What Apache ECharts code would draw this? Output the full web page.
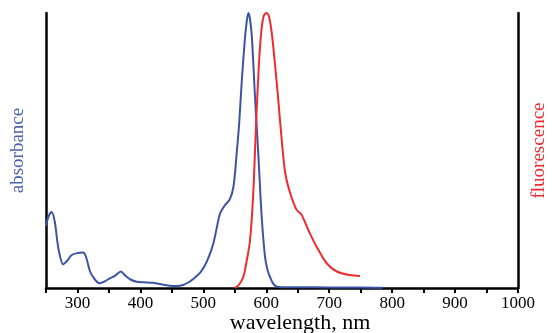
<!DOCTYPE html>
<html>
<head>
<meta charset="utf-8">
<script src="https://cdn.jsdelivr.net/npm/echarts@6/dist/echarts.min.js"></script>
<style>
  html, body { margin: 0; padding: 0; background: #fff; }
  #chart { width: 552px; height: 333px; }
</style>
</head>
<body>
<div id="chart"></div>
<script>
// absorbance spectrum (normalised)
const absWl  = [250, 254, 259, 264, 270, 277.5, 284, 291, 300, 309, 314, 320, 328, 336, 344, 352, 360, 369, 376, 385, 394, 405, 420, 435, 447, 458, 468, 476, 484, 490, 495, 502, 509, 516, 521, 526.5, 534, 542, 548, 553, 557, 561, 566, 569, 571.6, 574, 577, 582, 587.5, 592.7, 598, 602, 606, 611, 616, 625, 650, 700, 750, 785];
const absVal = [0.226, 0.26, 0.276, 0.24, 0.14, 0.086, 0.1, 0.12, 0.127, 0.129, 0.11, 0.06, 0.03, 0.017, 0.025, 0.036, 0.045, 0.06, 0.045, 0.03, 0.023, 0.021, 0.019, 0.013, 0.008, 0.007, 0.011, 0.02, 0.033, 0.045, 0.056, 0.08, 0.115, 0.163, 0.215, 0.27, 0.3, 0.322, 0.37, 0.49, 0.6, 0.75, 0.905, 0.97, 1.0, 0.98, 0.917, 0.7, 0.48, 0.26, 0.114, 0.065, 0.04, 0.016, 0.006, 0.003, 0.003, 0.002, 0.002, 0.001];

// fluorescence spectrum (normalised)
const fluWl  = [550, 556, 563.5, 569, 574, 579, 583.7, 588, 592, 596, 600.5, 604, 608.6, 614, 619, 624.5, 630, 637.7, 648, 656, 667, 680, 696, 712, 733, 749];
const fluVal = [0.0, 0.01, 0.04, 0.1, 0.17, 0.33, 0.59, 0.8, 0.93, 0.99, 1.0, 0.99, 0.93, 0.81, 0.686, 0.54, 0.42, 0.347, 0.285, 0.266, 0.21, 0.15, 0.09, 0.06, 0.047, 0.044];

const xTicks = [300, 400, 500, 600, 700, 800, 900, 1000];

const blue = '#3b54a5';
const red = '#ee2b2f';
const serif = 'Liberation Serif';

const chart = echarts.init(document.getElementById('chart'));
chart.setOption({
  animation: false,
  grid: { left: 46, right: 34, top: 13, bottom: 45, containLabel: false, outerBoundsMode: 'none' },
  xAxis: {
    type: 'value',
    min: 250, max: 1000, interval: 50,
    name: 'wavelength, nm',
    nameLocation: 'middle',
    nameGap: 24,
    nameMoveOverlap: false,
    nameTextStyle: { fontFamily: serif, fontSize: 22, color: '#000', padding: [0, 0, 0, 36] },
    axisLine: { lineStyle: { color: '#000', width: 2.5 } },
    axisTick: { length: 5, lineStyle: { color: '#000', width: 2 } },
    axisLabel: {
      margin: 7,
      fontFamily: serif, fontSize: 17, color: '#000',
      formatter: v => xTicks.includes(v) ? String(v) : ''
    },
    splitLine: { show: false }
  },
  yAxis: [{
    type: 'value', min: 0, max: 1,
    name: 'absorbance',
    nameLocation: 'middle', nameRotate: 90, nameGap: 18,
    nameTextStyle: { fontFamily: serif, fontSize: 19, color: '#4a62ad' },
    axisLine: { show: true, lineStyle: { color: '#000', width: 2.5 } },
    axisTick: { show: false }, axisLabel: { show: false }, splitLine: { show: false }
  }, {
    type: 'value', min: 0, max: 1, position: 'right',
    name: 'fluorescence',
    nameLocation: 'middle', nameRotate: 90, nameGap: 12,
    nameTextStyle: { fontFamily: serif, fontSize: 19, color: red },
    axisLine: { show: true, lineStyle: { color: '#000', width: 2.5 } },
    axisTick: { show: false }, axisLabel: { show: false }, splitLine: { show: false }
  }],
  series: [{
    type: 'line', yAxisIndex: 0, smooth: 0.3, showSymbol: false,
    lineStyle: { color: blue, width: 2 },
    data: absWl.map((w, i) => [w, absVal[i]])
  }, {
    type: 'line', yAxisIndex: 1, smooth: 0.3, showSymbol: false,
    lineStyle: { color: red, width: 2 },
    data: fluWl.map((w, i) => [w, fluVal[i]])
  }]
});
</script>
</body>
</html>
